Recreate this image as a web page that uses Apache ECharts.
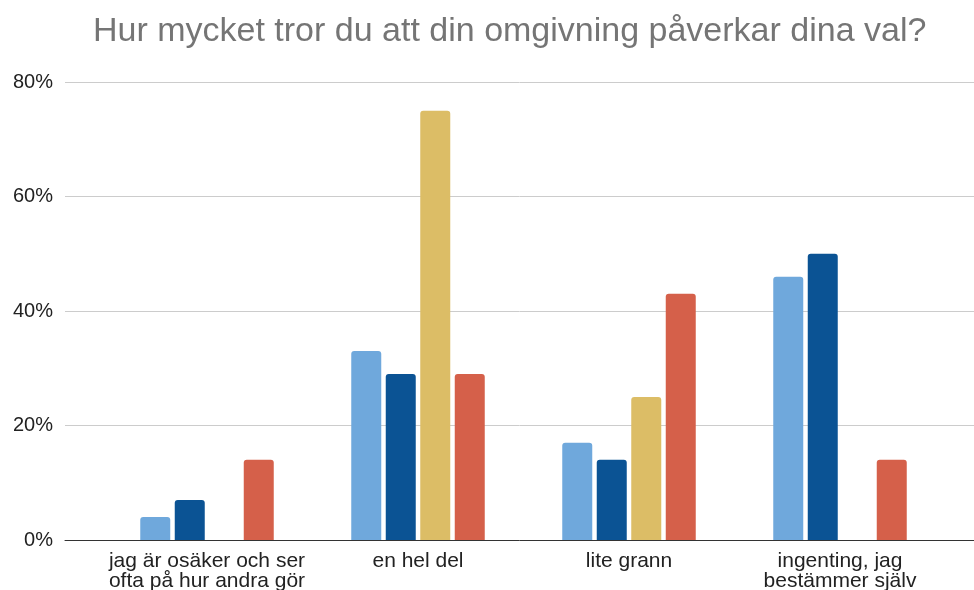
<!DOCTYPE html>
<html>
<head>
<meta charset="utf-8">
<script src="https://cdn.jsdelivr.net/npm/echarts@6/dist/echarts.min.js"></script>
<style>html,body{margin:0;padding:0;background:#fff}#c{width:974px;height:590px}</style>
</head>
<body>
<div id="c"></div>
<script>
const title = "Hur mycket tror du att din omgivning påverkar dina val?";
const categories = ["jag är osäker och ser\nofta på hur andra gör", "en hel del", "lite grann", "ingenting, jag\nbestämmer själv"];
const seriesA = [4, 33, 17, 46];
const seriesB = [7, 29, 14, 50];
const seriesC = [0, 75, 25, 0];
const seriesD = [14, 29, 43, 14];
const yTicks = [0, 20, 40, 60, 80];
const colors = ["#6fa8dc", "#0b5394", "#dcbd66", "#d5604a"];
const FONT = 'Liberation Sans';

const chart = echarts.init(document.getElementById('c'), null, {renderer: 'canvas'});
const mk = (data, i) => ({
  type: 'bar', xAxisIndex: 1, yAxisIndex: 1,
  data: data.map(v => v === 0 ? null : v),
  barWidth: 30, barGap: '15%',
  itemStyle: {color: colors[i], borderRadius: [3, 3, 0, 0]},
  silent: true
});
chart.setOption({
  animation: false,
  title: {text: title, left: 88, top: 10,
    textStyle: {fontFamily: FONT, fontSize: 34, fontWeight: 'normal', color: '#757575'}},
  grid: [
    {left: 65, right: 0, top: 82, bottom: 50, outerBoundsMode: 'none', containLabel: false},
    {left: 101.5, right: 28.5, top: 82, bottom: 50, outerBoundsMode: 'none', containLabel: false}
  ],
  xAxis: [
    {gridIndex: 0, type: 'category', data: categories, axisLine: {show: true, lineStyle: {color: '#333', width: 1}},
      axisTick: {show: false}, axisLabel: {show: false}},
    {gridIndex: 1, type: 'category', data: categories, axisLine: {show: false}, axisTick: {show: false},
      axisLabel: {fontFamily: FONT, fontSize: 21, color: '#222', lineHeight: 20, margin: 11, interval: 0}}
  ],
  yAxis: [
    {gridIndex: 0, type: 'value', min: yTicks[0], max: yTicks[yTicks.length-1], interval: 20,
      axisLabel: {formatter: '{value}%', fontFamily: FONT, fontSize: 20, color: '#222', margin: 12},
      splitLine: {lineStyle: {color: '#cccccc', width: 1}}, axisLine: {show: false}, axisTick: {show: false}},
    {gridIndex: 1, type: 'value', min: yTicks[0], max: yTicks[yTicks.length-1], interval: 20,
      axisLabel: {show: false}, splitLine: {show: false}, axisLine: {show: false}, axisTick: {show: false}}
  ],
  series: [mk(seriesA, 0), mk(seriesB, 1), mk(seriesC, 2), mk(seriesD, 3)]
});
</script>
</body>
</html>
